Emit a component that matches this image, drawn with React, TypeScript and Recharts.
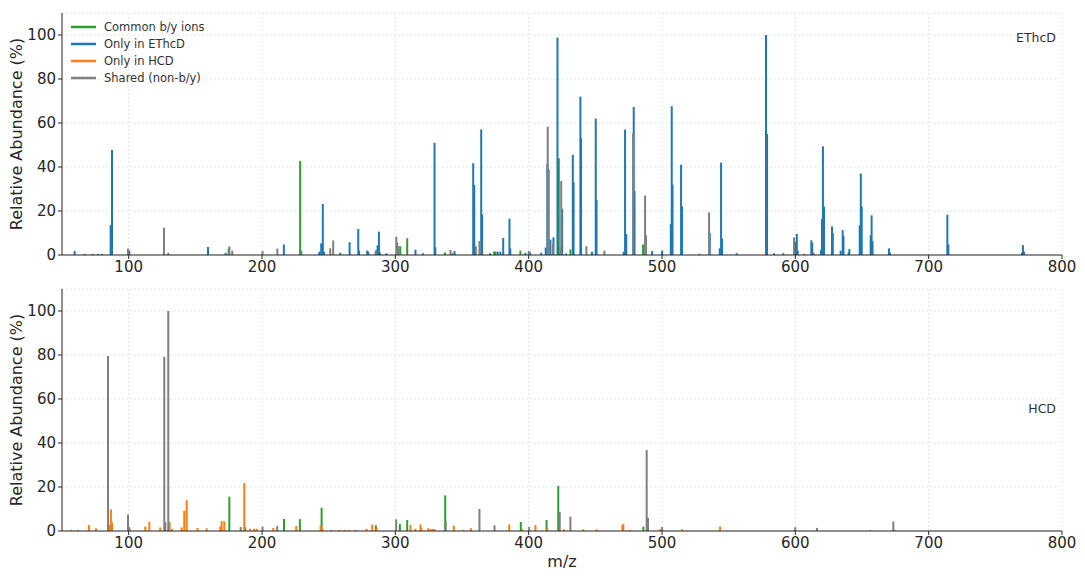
import { ScatterChart, Scatter, XAxis, YAxis, CartesianGrid, ErrorBar } from 'recharts';

type Peak = [number, number];

const X_TICKS = [100, 200, 300, 400, 500, 600, 700, 800];
const Y_TICKS = [0, 20, 40, 60, 80, 100];
const SERIES_NAMES = ['Common b/y ions', 'Only in EThcD', 'Only in HCD', 'Shared (non-b/y)'];
const COLORS = ['#2ca02c', '#1f77b4', '#ff7f0e', '#7f7f7f'];

// EThcD panel, [m/z, relative abundance]
const ethcdCommon: Peak[] = [
  [175, 3], [228.6, 42.7], [285.2, 1.5], [303.7, 4], [308.9, 7.6], [337.2, 1.2], [343, 0.8],
  [374.1, 1.6], [375.1, 1.6], [393.8, 2], [422.6, 44], [431.3, 2.5], [485.8, 4.8], [640, 1.2],
];
const ethcdOnly: Peak[] = [
  [59.5, 1.8], [67, 0.5], [73, 0.5], [77, 0.5], [80, 0.5], [86.5, 13.6], [87.5, 47.7], [100.5, 2],
  [159.5, 3.6], [172.7, 1], [216.4, 4.8], [243, 1.5], [244.4, 5.3], [245.6, 23.2], [246.5, 1.5],
  [258.7, 1], [265.7, 5.8], [272.2, 11.8], [272.8, 2], [278.9, 2], [279.8, 1.5], [286.7, 4.4],
  [287.7, 10.6], [288.5, 1], [293.2, 0.8], [315.1, 2.4], [320.7, 0.8], [329.4, 51], [330, 3.5],
  [344.4, 1.8], [358.4, 41.7], [359.2, 31.8], [364.4, 57.1], [365.1, 18.4], [371, 0.8], [376.8, 1.5],
  [378.8, 1.5], [380.9, 7.7], [385.6, 16.5], [386.2, 3], [397.5, 1], [401, 1.3], [409.4, 1.1],
  [412.8, 3.4], [414, 41.3], [416.3, 7], [418.6, 8], [421.6, 98.8], [425.1, 21], [428, 0.7],
  [433.1, 45.5], [433.7, 33], [438.8, 72], [439.3, 53], [447.5, 1.5], [450.3, 62], [450.9, 25],
  [471.3, 1.5], [472.3, 57], [473.2, 9.5], [478.8, 67.3], [479.4, 29], [492.6, 1.8], [500.1, 2],
  [506.6, 14], [507.3, 67.6], [507.9, 32], [514.3, 41], [515, 22], [528, 0.5], [535.8, 10],
  [543.3, 3], [544.3, 42], [545, 7.5], [556, 0.8], [578, 100], [578.8, 55], [584, 0.8], [591, 0.8],
  [599.8, 6], [601.1, 9.6], [601.8, 2], [606.7, 0.5], [612, 6.7], [612.7, 5.5], [619.2, 2.3],
  [620, 16.4], [620.7, 49.4], [621.5, 22], [627.5, 13], [628.1, 10], [634, 2], [635.5, 11.3],
  [636.1, 8.7], [640.5, 2.7], [648.3, 13.5], [649.1, 37], [649.8, 22], [656.5, 9], [657.2, 18],
  [657.9, 6.3], [670.2, 3], [671, 1], [714, 18.3], [714.8, 4.8], [769.9, 1], [770.7, 4.5], [771.5, 1.5],
];
const ethcdShared: Peak[] = [
  [99.5, 3], [126.5, 12.4], [129.7, 1], [175.5, 3.9], [177.7, 2], [200.4, 1.8], [211.5, 2.9],
  [229.5, 2], [251.2, 3], [253.4, 6.6], [285.6, 2.3], [300.7, 8.3], [301.4, 5.7], [302.4, 4],
  [341.4, 2.3], [360.4, 4], [363.1, 6.4], [400.1, 1.8], [414.3, 58.3], [415.1, 38.9], [418.2, 5],
  [423.8, 3.5], [424.4, 33.6], [443.3, 4], [456.8, 2], [478.3, 55.3], [487.3, 27], [488, 9],
  [535.3, 19.4], [599, 8], [613.8, 1],
];

// HCD panel, [m/z, relative abundance]
const hcdCommon: Peak[] = [
  [175.5, 15.6], [187.3, 1.8], [216.5, 5.5], [228.4, 5.4], [244.7, 10.6], [285.4, 2.6], [303.4, 3.2],
  [308.9, 5], [337.4, 16.2], [394.1, 4.1], [413.4, 5], [422.2, 20.5], [486, 2],
];
const hcdOnly: Peak[] = [
  [57, 0.5], [62, 0.4], [70.2, 2.7], [75.5, 1.1], [86, 2.7], [86.7, 9.8], [87.5, 4], [100.8, 1.2],
  [112.5, 2], [115.5, 4.2], [123.7, 1.6], [130.7, 4.2], [132.5, 1], [139.7, 1.6], [141.7, 9.2],
  [143.5, 14], [151.7, 1.4], [158.5, 1.2], [168.7, 2], [169.7, 4.5], [171.7, 4.4], [186.7, 21.8],
  [191, 1], [194, 1], [196, 1], [208.5, 1.4], [225.7, 2.3], [244, 2.5], [245.5, 1], [252, 0.5],
  [258, 0.5], [262, 0.5], [265, 0.5], [270, 0.5], [278.4, 1], [282.7, 2.9], [286, 1.5], [311.4, 2.7],
  [315, 1], [318.9, 3], [319.5, 1.3], [324.7, 1.3], [326.5, 0.9], [328.3, 0.9], [329.3, 0.9],
  [343.9, 2.5], [351, 0.5], [356.6, 1.3], [385.4, 3], [395, 1], [405.1, 2.7], [414, 1.2],
  [426.5, 0.8], [441, 0.8], [451, 0.8], [470.3, 2.7], [471, 3.2], [476, 0.5], [498.5, 0.8],
  [515, 0.8], [543.5, 2], [599, 0.5], [656, 0.5], [674.5, 0.5],
];
const hcdShared: Peak[] = [
  [84.5, 79.5], [99.5, 7.5], [100.3, 1.8], [126.7, 79.2], [127.5, 4], [129.7, 100], [184, 1.8],
  [200.4, 2], [211.4, 2.2], [300.6, 5.3], [337.8, 4.5], [363.1, 10], [374.4, 2.6], [400.4, 1.8],
  [423.3, 8.6], [431.3, 6.5], [488.5, 36.8], [489.5, 6], [500.1, 1.8], [600, 1.7], [616.2, 1.4],
  [673.5, 4.3],
];

const FONT = '"DejaVu Sans", sans-serif';
const TEXT = '#262626';

// stems go from 0 up to the value: asymmetric error [down, up]
const toStems = (peaks: Peak[]) => peaks.map(([mz, y]) => ({ mz, y, stem: [y, 0] }));

const NoDot = () => <g />;

function Panel({
  height,
  top,
  xAxisHeight,
  series,
  showXLabel,
}: {
  height: number;
  top: number;
  xAxisHeight: number;
  series: Peak[][];
  showXLabel: boolean;
}) {
  return (
    <ScatterChart width={1085} height={height} margin={{ top, right: 23, bottom: 0, left: 0 }}>
      <CartesianGrid stroke="#e6e6e6" strokeDasharray="2 2" />
      <XAxis
        type="number"
        dataKey="mz"
        domain={[50, 800]}
        ticks={X_TICKS}
        interval={0}
        height={xAxisHeight}
        tickSize={4}
        tickMargin={2}
        stroke="#262626"
        tick={{ fontSize: 15, fill: TEXT, fontFamily: FONT }}
        label={
          showXLabel
            ? { value: 'm/z', position: 'insideBottom', offset: 12, style: { fontSize: 16, fill: TEXT, fontFamily: FONT } }
            : undefined
        }
      />
      <YAxis
        type="number"
        dataKey="y"
        domain={[0, 110]}
        ticks={Y_TICKS}
        width={62}
        tickSize={4}
        tickMargin={2}
        stroke="#262626"
        tick={{ fontSize: 15, fill: TEXT, fontFamily: FONT }}
        label={{
          value: 'Relative Abundance (%)',
          angle: -90,
          position: 'insideLeft',
          offset: 16,
          style: { fontSize: 16, fill: TEXT, fontFamily: FONT, textAnchor: 'middle' },
        }}
      />
      {series.map((peaks, i) => (
        <Scatter
          key={SERIES_NAMES[i]}
          name={SERIES_NAMES[i]}
          data={toStems(peaks)}
          fill={COLORS[i]}
          shape={NoDot}
          isAnimationActive={false}
        >
          <ErrorBar dataKey="stem" direction="y" width={0} stroke={COLORS[i]} strokeWidth={2} isAnimationActive={false} />
        </Scatter>
      ))}
    </ScatterChart>
  );
}

export default function App() {
  return (
    <div style={{ position: 'relative', width: 1085, height: 579, fontFamily: FONT, background: '#fff' }}>
      <style>{'body{margin:0}'}</style>
      <Panel height={285} top={13} xAxisHeight={30} series={[ethcdCommon, ethcdOnly, [], ethcdShared]} showXLabel={false} />
      <Panel height={294} top={4} xAxisHeight={48} series={[hcdCommon, [], hcdOnly, hcdShared]} showXLabel />

      <div style={{ position: 'absolute', left: 71, top: 18, fontSize: 11.5, color: '#333' }}>
        {SERIES_NAMES.map((name, i) => (
          <div key={name} style={{ display: 'flex', alignItems: 'center', height: 17 }}>
            <svg width={25} height={4} style={{ marginRight: 8 }}>
              <line x1={0} y1={2} x2={25} y2={2} stroke={COLORS[i]} strokeWidth={2.5} />
            </svg>
            <span>{name}</span>
          </div>
        ))}
      </div>

      <div style={{ position: 'absolute', right: 29, top: 30, fontSize: 12.5, color: '#333', lineHeight: '16px' }}>EThcD</div>
      <div style={{ position: 'absolute', right: 29, top: 401, fontSize: 12.5, color: '#333', lineHeight: '16px' }}>HCD</div>
    </div>
  );
}
